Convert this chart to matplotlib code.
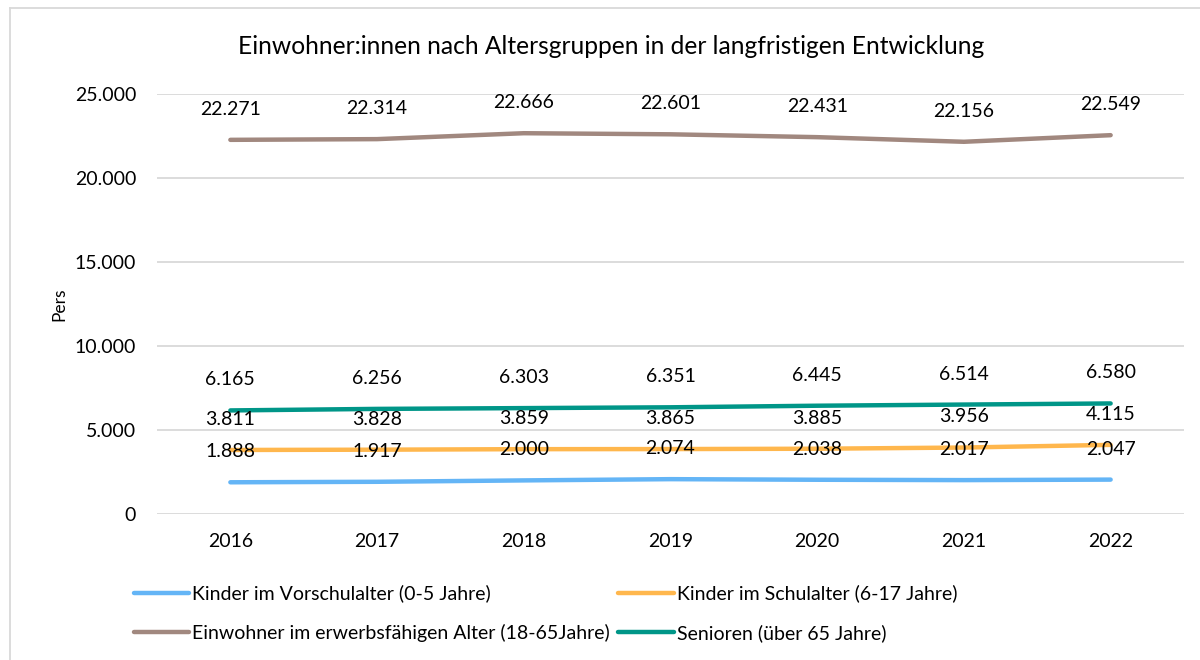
import matplotlib
matplotlib.use("Agg")
import matplotlib.pyplot as plt
from matplotlib.lines import Line2D
from matplotlib.ticker import FuncFormatter

plt.rcParams['font.family'] = ['Lato', 'DejaVu Sans']

years = ["2016", "2017", "2018", "2019", "2020", "2021", "2022"]
vorschul = [1888, 1917, 2000, 2074, 2038, 2017, 2047]
schul = [3811, 3828, 3859, 3865, 3885, 3956, 4115]
erwerb = [22271, 22314, 22666, 22601, 22431, 22156, 22549]
senioren = [6165, 6256, 6303, 6351, 6445, 6514, 6580]

series = [
    ("Kinder im Vorschulalter (0-5 Jahre)", vorschul, "#64B5F6"),
    ("Kinder im Schulalter (6-17 Jahre)", schul, "#FFB74D"),
    ("Einwohner im erwerbsfähigen Alter (18-65Jahre)", erwerb, "#A1887F"),
    ("Senioren (über 65 Jahre)", senioren, "#009688"),
]

title = "Einwohner:innen nach Altersgruppen in der langfristigen Entwicklung"

def fmt(v, pos=None):
    return f"{int(round(v)):,}".replace(",", ".")

fig = plt.figure(figsize=(12, 6.6), dpi=100)
ax = fig.add_axes([157/1200, 1-514/660, (1184-157)/1200, (514-94)/660])

FS = 14
x = list(range(len(years)))
handles = []
for name, vals, col in series:
    ln, = ax.plot(x, vals, color=col, lw=3.2, solid_capstyle='round', label=name, zorder=3)
    handles.append(ln)
    for xi, v in zip(x, vals):
        ax.annotate(fmt(v), (xi, v), xytext=(0, 22), textcoords='offset points',
                    ha='center', va='center', fontsize=FS, color='#000000', zorder=4)

ax.set_xlim(-0.5, len(years) - 0.5)
ax.set_ylim(0, 25000)
ax.set_yticks(range(0, 25001, 5000))
ax.yaxis.set_major_formatter(FuncFormatter(fmt))
ax.set_xticks(x)
ax.set_xticklabels(years)
ax.tick_params(axis='both', length=0, labelsize=FS, colors='#000000')
ax.tick_params(axis='y', pad=15)
ax.tick_params(axis='x', pad=14)
ax.grid(axis='y', color='#D9D9D9', lw=1.3, zorder=0)
for s in ax.spines.values():
    s.set_visible(False)
ax.set_ylabel("Pers", fontsize=12.5, labelpad=5)

fig.text(611/1200, 1-46/660, title, ha='center', va='center', fontsize=17.7)

order = [0, 2, 1, 3]
fig.legend(handles=[handles[i] for i in order],
           labels=[series[i][0] for i in order],
           ncol=2, loc='upper left', bbox_to_anchor=(116/1200, 1-567/660),
           frameon=False, fontsize=FS, handlelength=2.85, handletextpad=0.15,
           columnspacing=0.45, labelspacing=1.1)

# chart border
fig.add_artist(Line2D([10/1200, 10/1200], [0, 1-8/660], transform=fig.transFigure, color='#D9D9D9', lw=1.3))
fig.add_artist(Line2D([10/1200, 1], [1-8/660, 1-8/660], transform=fig.transFigure, color='#D9D9D9', lw=1.3))

fig.savefig("out.png", dpi=100)
